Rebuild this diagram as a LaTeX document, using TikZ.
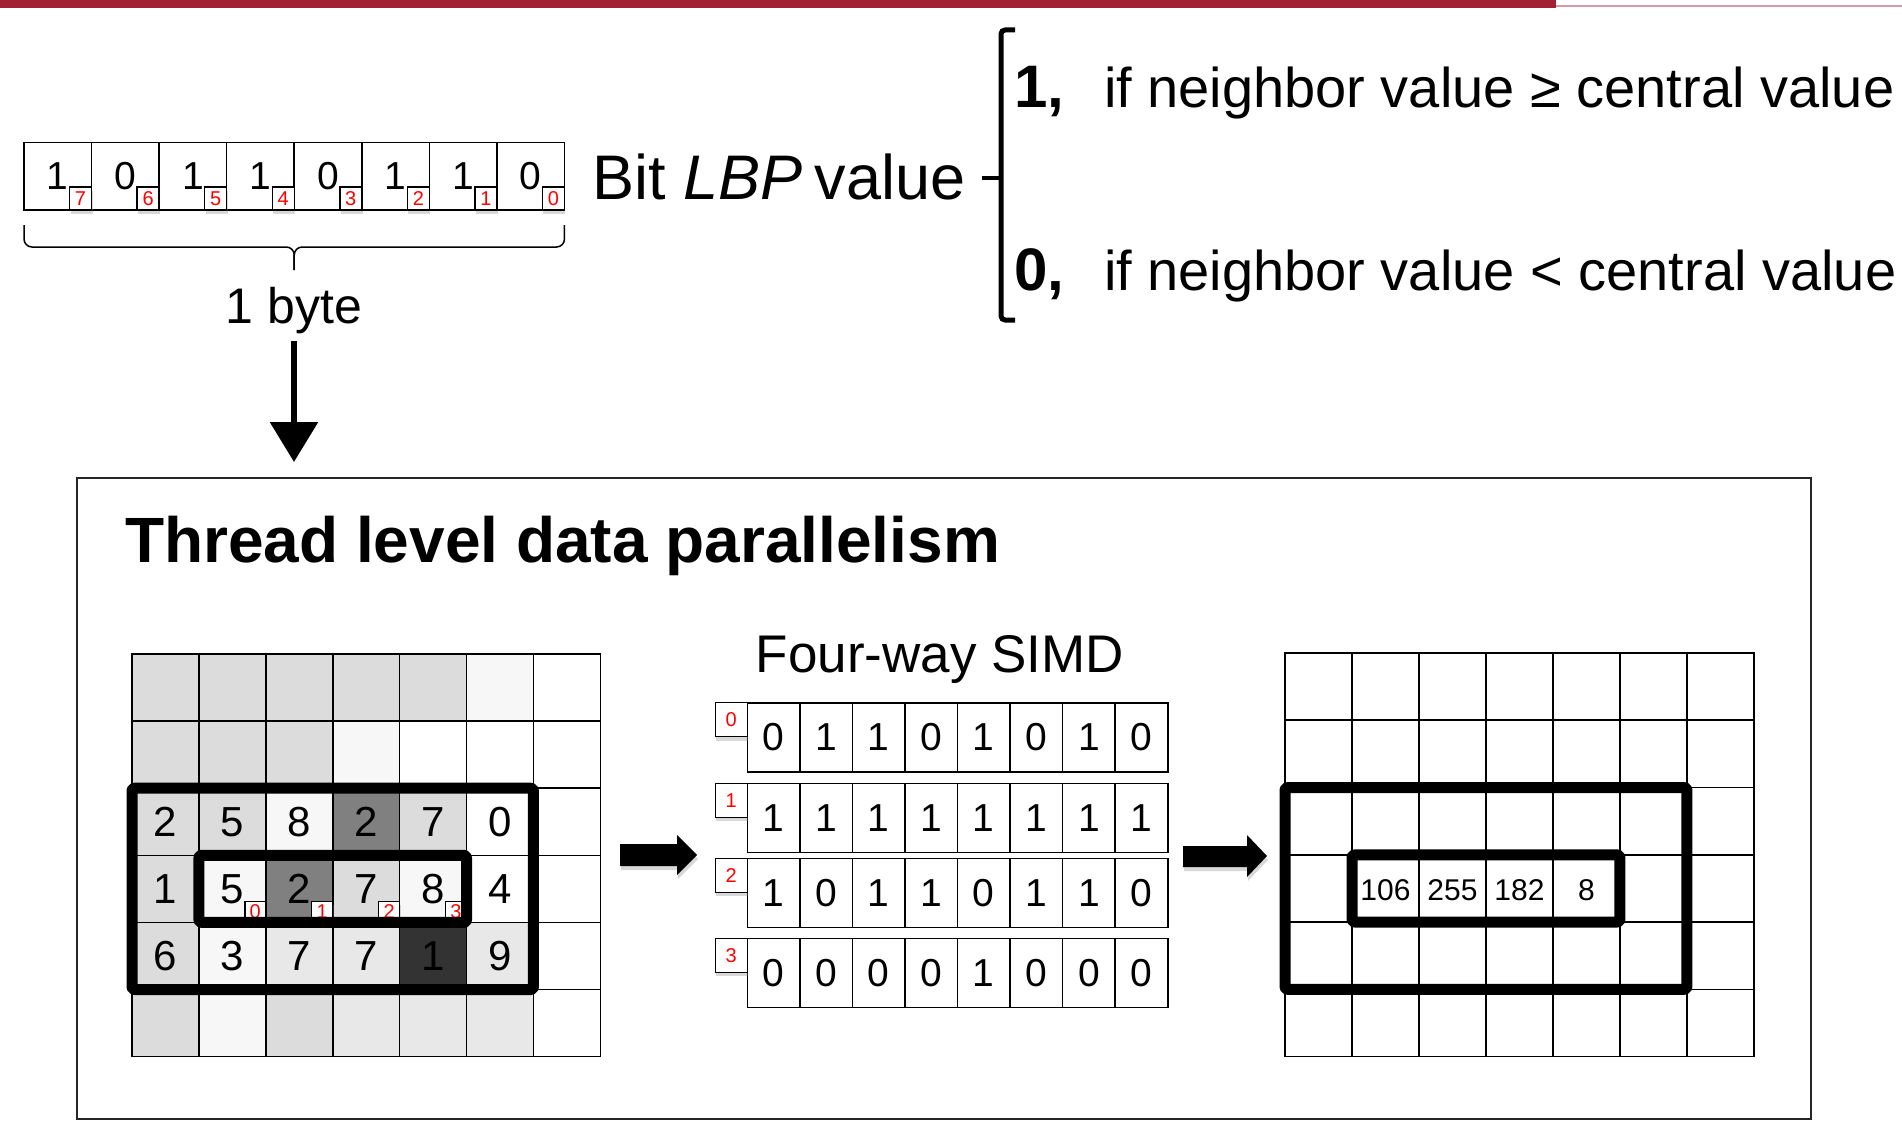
\documentclass[tikz,border=0pt]{standalone}
\usepackage{fontspec}
\setmainfont{Liberation Sans}
\usetikzlibrary{arrows.meta,shadows,calc}
\definecolor{mitred}{RGB}{163,31,52}
\definecolor{gA}{HTML}{DCDCDC}
\definecolor{gB}{HTML}{F7F7F7}
\definecolor{gC}{HTML}{E8E8E8}
\definecolor{gD}{HTML}{808080}
\definecolor{gE}{HTML}{333333}
\newcommand\fsz[1]{\fontsize{#1}{#1}\selectfont}
\begin{document}
\begin{tikzpicture}[x=1pt,y=-1pt,
  cellbox/.style={draw=black, line width=1.6pt, inner sep=0pt, outer sep=0pt, anchor=north west,
    minimum width=66.9pt, minimum height=67.1pt, font=\fsz{42}},
  bytecell/.style={cellbox, minimum width=67.56pt, minimum height=67.3pt, font=\fsz{39}},
  simdcell/.style={cellbox, minimum width=52.55pt, minimum height=69pt, font=\fsz{39}},
  idxbox/.style={draw=black, line width=1.4pt, fill=white, text=red, inner sep=0pt, outer sep=0pt,
    minimum width=22pt, minimum height=22pt, font=\fsz{20},
    drop shadow={opacity=0.3, shadow xshift=1pt, shadow yshift=-4pt}},
  lbl/.style={inner sep=0pt, outer sep=0pt},
  thickframe/.style={line width=11pt, rounded corners=2.5pt, line join=round}
]
\useasboundingbox (0,0) rectangle (1902,1134);
\fill[white] (0,0) rectangle (1902,1134);
% top bar
\fill[mitred] (0,0) rectangle (1556,8);
\fill[mitred!45] (1556,5) rectangle (1902,7.5);

% ---------- byte ----------
\foreach \v [count=\i from 0] in {1,0,1,1,0,1,1,0}{
  \node[bytecell] (b\i) at ({24+67.56*\i},142.7) {\raisebox{-2pt}{\v}\hspace{4pt}};
}
\foreach \i in {0,...,7}{
  \pgfmathtruncatemacro\k{7-\i}
  \node[idxbox, anchor=south east, minimum height=23pt] (bi\i) at (b\i.south east) {\k};
}
% brace
\coordinate (brmid) at ($(b0.south west)!.5!(b7.south east)+(0,37)$);
\draw[line width=1.5pt, rounded corners=8pt] ($(b0.south west)+(0,15)$) |- (brmid) -- ++(0,23);
\draw[line width=1.5pt, rounded corners=8pt] ($(b7.south east)+(0,15)$) |- (brmid) -- ++(0,23);
\node[lbl, anchor=base, font=\fsz{50}] (bytelbl) at (294,323) {1 byte};
\coordinate (arrtip) at (294,462);
\draw[line width=6pt, -{Triangle[width=47pt,length=40pt]}] ([yshift=-8pt]bytelbl.south) -- (arrtip);

% ---------- LBP definition ----------
\node[lbl, anchor=base west, font=\fsz{63}] (bitlbl) at (592,200) {Bit \textit{LBP}\hspace{0.2em}value};
\draw[line width=5pt, rounded corners=4pt] (1015,30) -- (1001,30) -- (1001,320) -- (1015,320);
\draw[line width=4pt] (982,178) -- (1001,178);
\node[lbl, anchor=base west, font=\bfseries\fsz{60}] (one) at (1014,108) {1,};
\node[lbl, anchor=base west, font=\fsz{56}] (cond1) at (1104,108) {if neighbor value ≥ central value};
\node[lbl, anchor=base west, font=\bfseries\fsz{60}] (zero) at (1014,290) {0,};
\node[lbl, anchor=base west, font=\fsz{56}] (cond0) at (1104,290) {if neighbor value < central value};

% ---------- frame ----------
\node[draw=black!85, line width=2pt, inner sep=0pt, anchor=north west,
  minimum width=1734pt, minimum height=641pt] (frame) at (76,477) {};
\node[lbl, anchor=base west, font=\bfseries\fsz{64}] (title) at (125,562) {Thread level data parallelism};

% ---------- left grid ----------
\foreach \row [count=\r from 0] in {
  {gA/,gA/,gA/,gA/,gA/,gB/,white/},
  {gA/,gA/,gA/,gB/,white/,white/,white/},
  {gA/2,gA/5,gB/8,gD/2,gA/7,white/0,white/},
  {gA/1,gB/5,gD/2,gA/7,gB/8,white/4,white/},
  {gA/6,gB/3,gC/7,gC/7,gE/1,gC/9,white/},
  {gA/,gB/,gA/,gC/,gC/,gC/,white/}}{
  \foreach \cc/\tx [count=\k from 0] in \row {
    \node[cellbox, fill=\cc] (L\r-\k) at ({132+66.9*\k},{654+67.1*\r}) {\raisebox{-2pt}{\tx}};
  }
}
\foreach \k/\n in {1/0,2/1,3/2,4/3}{
  \node[idxbox, anchor=south east, minimum width=21pt, minimum height=21pt] (Li\n) at (L3-\k.south east) {\n};
}
\draw[thickframe] (L2-0.north west) rectangle (L4-5.south east);
\draw[thickframe] (L3-1.north west) rectangle (L3-4.south east);

% ---------- SIMD ----------
\node[lbl, anchor=base, font=\fsz{53}] (simd) at (940,672) {Four-way SIMD};
\foreach \row/\ty [count=\r from 0] in {
  {0,1,1,0,1,0,1,0}/702.7,
  {1,1,1,1,1,1,1,1}/783.3,
  {1,0,1,1,0,1,1,0}/858.3,
  {0,0,0,0,1,0,0,0}/938.3}{
  \foreach \v [count=\k from 0] in \row {
    \node[simdcell] (S\r-\k) at ({747.3+52.55*\k},\ty) {\raisebox{-2pt}{\v}};
  }
}
\foreach \r in {0,1,2,3}{
  \node[idxbox, anchor=north east, minimum width=32pt, minimum height=34pt, font=\fsz{20}] (Si\r) at (S\r-0.north west) {\r};
}

% ---------- block arrows ----------
\fill[black, drop shadow={opacity=0.3, shadow xshift=1pt, shadow yshift=-4pt}]
  (620,844) -- (677,844) -- (677,835) -- (697,855) -- (677,875) -- (677,866) -- (620,866) -- cycle;
\fill[black, drop shadow={opacity=0.3, shadow xshift=1pt, shadow yshift=-4pt}]
  (1183,846) -- (1247,846) -- (1247,835) -- (1267,856) -- (1247,877) -- (1247,867) -- (1183,867) -- cycle;

% ---------- right grid ----------
\foreach \r in {0,...,5}{
  \foreach \k in {0,...,6}{
    \node[cellbox, fill=white] (R\r-\k) at ({1285+67*\k},{653+67.3*\r}) {};
  }
}
\foreach \k/\n in {1/106,2/255,3/182,4/8}{
  \node[lbl, font=\fsz{30}] (Rv\k) at ([yshift=-2pt]R3-\k.center) {\n};
}
\draw[thickframe] (R2-0.north west) rectangle (R4-5.south east);
\draw[thickframe] (R3-1.north west) rectangle (R3-4.south east);
\end{tikzpicture}
\end{document}
